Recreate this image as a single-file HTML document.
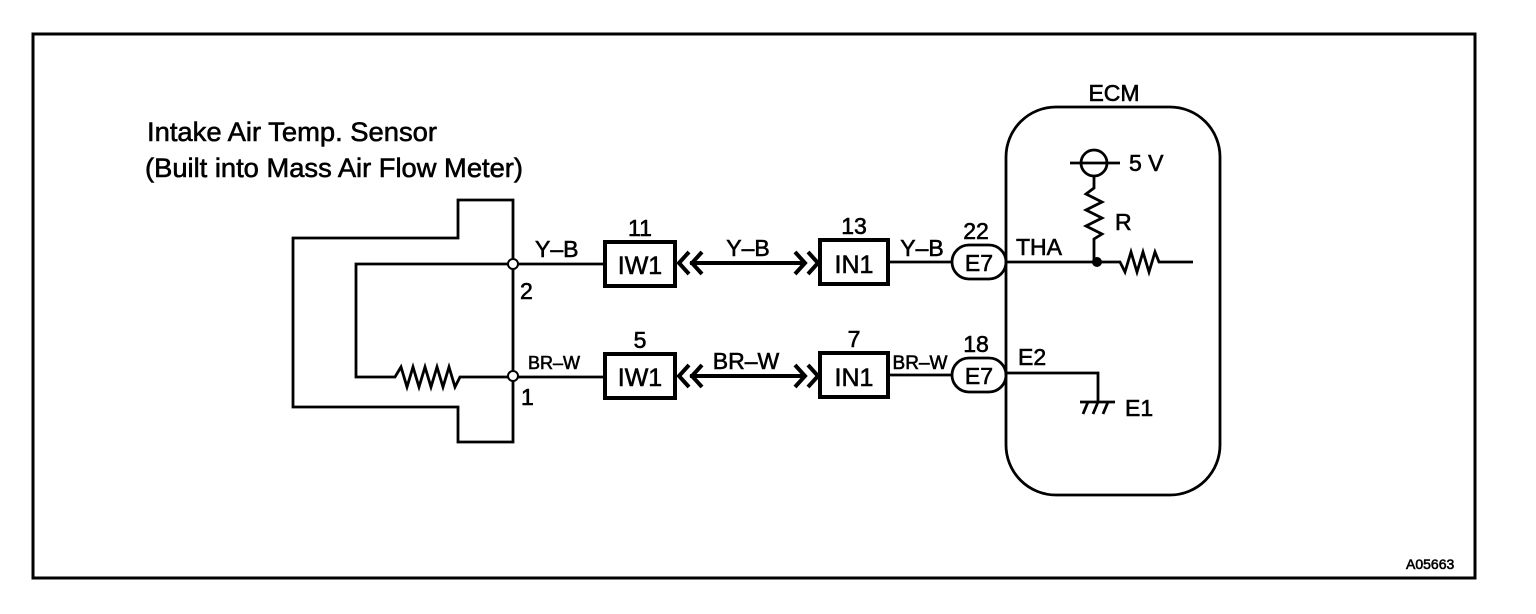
<!DOCTYPE html>
<html><head><style>
html,body{margin:0;padding:0;background:#fff;}
svg{display:block;}
text{font-family:"Liberation Sans",Arial,sans-serif;fill:#000;stroke:#000;stroke-width:0.6;}
</style></head><body>
<svg width="1536" height="614" viewBox="0 0 1536 614" xmlns="http://www.w3.org/2000/svg">
<g fill="none" stroke="#000" stroke-width="2.8">
<rect x="33" y="34" width="1442" height="544" stroke-width="3"/>
<path d="M458 238 V200 H513 V442 H458 V407 H293 V238 Z"/>
<path d="M513 264 H356 V377 H395 l6 -10 l6 20 l6 -20 l6 20 l6 -20 l6 20 l6 -20 l6 20 l6 -20 l6 20 l5 -10 H513"/>
<line x1="517" y1="264" x2="605" y2="264"/>
<line x1="517" y1="377" x2="605" y2="377"/>
<rect x="605" y="242" width="70" height="44" stroke-width="4"/>
<rect x="605" y="354" width="70" height="44" stroke-width="4"/>
<rect x="820" y="240" width="68" height="44" stroke-width="4"/>
<rect x="820" y="353" width="68" height="44" stroke-width="4"/>
<g stroke-width="4">
<line x1="690" y1="263" x2="806" y2="263"/>
<path d="M689 252 L679 263 L689 274 M702 252 L692 263 L702 274"/>
<path d="M795 252 L805 263 L795 274 M808 252 L818 263 L808 274"/>
<line x1="690" y1="376" x2="806" y2="376"/>
<path d="M689 365 L679 376 L689 387 M702 365 L692 376 L702 387"/>
<path d="M795 365 L805 376 L795 387 M808 365 L818 376 L808 387"/>
</g>
<line x1="888" y1="262" x2="952" y2="262"/>
<line x1="888" y1="375" x2="952" y2="375"/>
<rect x="952" y="245" width="54" height="34" rx="17"/>
<rect x="952" y="358" width="54" height="34" rx="17"/>
<rect x="1006" y="107" width="214" height="388" rx="50"/>
<line x1="1006" y1="262" x2="1094" y2="262"/>
<path d="M1094 262 H1120 l5 10 l6 -20 l6 20 l6 -20 l6 20 l6 -20 l4 10 H1193"/>
<line x1="1070" y1="163" x2="1120" y2="163"/>
<circle cx="1094" cy="163" r="13"/>
<path d="M1094 176 V188 l-8 6 l16 8 l-16 8 l16 8 l-16 8 l16 8 l-8 5 V262"/>
<path d="M1006 373 H1098 V402"/>
<path d="M1080 402 H1115 M1088 402 l-5 12 M1098 402 l-5 12 M1108 402 l-5 12"/>
</g>
<circle cx="513" cy="264" r="5" fill="#fff" stroke="#000" stroke-width="2"/>
<circle cx="513" cy="376" r="5" fill="#fff" stroke="#000" stroke-width="2"/>
<circle cx="1097" cy="262" r="5" fill="#000"/>
<g font-size="27">
<text x="147" y="141" textLength="290" lengthAdjust="spacingAndGlyphs">Intake Air Temp. Sensor</text>
<text x="145" y="177" textLength="378" lengthAdjust="spacingAndGlyphs">(Built into Mass Air Flow Meter)</text>
</g>
<g font-size="23">
<text x="535" y="257">Y–B</text>
<text x="520" y="299">2</text>
<text x="521" y="405">1</text>
<text x="528" y="369" font-size="18">BR–W</text>
<text x="640" y="236" text-anchor="middle">11</text>
<text x="640" y="348" text-anchor="middle">5</text>
<text x="640" y="274" text-anchor="middle" font-size="25">IW1</text>
<text x="640" y="386" text-anchor="middle" font-size="25">IW1</text>
<text x="748" y="256" text-anchor="middle">Y–B</text>
<text x="746" y="369" text-anchor="middle">BR–W</text>
<text x="854" y="234" text-anchor="middle">13</text>
<text x="854" y="347" text-anchor="middle">7</text>
<text x="854" y="273" text-anchor="middle" font-size="25">IN1</text>
<text x="854" y="386" text-anchor="middle" font-size="25">IN1</text>
<text x="922" y="256" text-anchor="middle">Y–B</text>
<text x="920" y="369" text-anchor="middle" font-size="19">BR–W</text>
<text x="976" y="239" text-anchor="middle">22</text>
<text x="976" y="352" text-anchor="middle">18</text>
<text x="979" y="271" text-anchor="middle">E7</text>
<text x="979" y="384" text-anchor="middle">E7</text>
<text x="1114" y="101" text-anchor="middle">ECM</text>
<text x="1129" y="171">5 V</text>
<text x="1115" y="230">R</text>
<text x="1016" y="255">THA</text>
<text x="1018" y="365">E2</text>
<text x="1125" y="416">E1</text>
<text x="1406" y="569" font-size="14">A05663</text>
</g>
</svg>
</body></html>
